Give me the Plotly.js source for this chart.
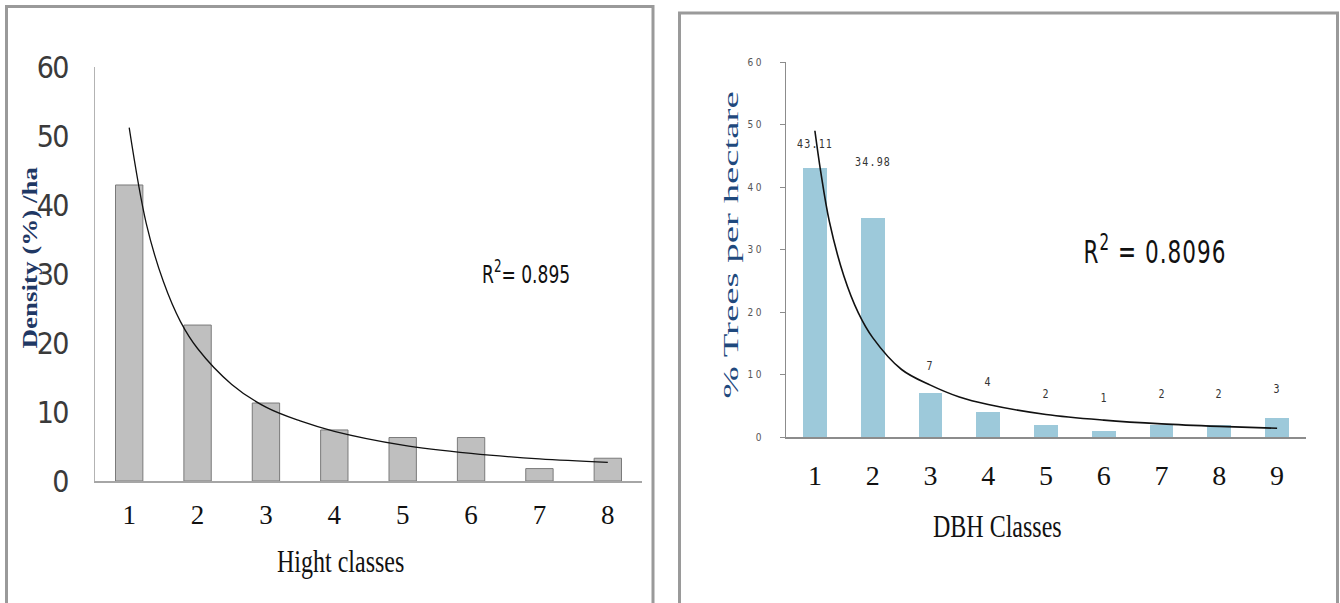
<!DOCTYPE html>
<html>
<head>
<meta charset="utf-8">
<script src="https://cdn.plot.ly/plotly-3.0.1.min.js"></script>
<style>
  html, body { margin: 0; padding: 0; background: #ffffff; }
  #chart { width: 1340px; height: 603px; }
  .annotation text { transform-box: fill-box; transform-origin: center; }
  .annotation[data-index="0"] text { transform: scaleX(1.35); }
  .annotation[data-index="1"] text { transform: scaleY(1.3); }
  .annotation[data-index="2"] text { transform: scaleY(1.33); }
  .annotation[data-index="3"] text { transform: scaleX(1.85); }
  .annotation[data-index="4"] text { transform: scaleY(1.3); }
  .annotation[data-index="5"] text { transform: scaleY(1.33); letter-spacing: 1px; }
  .y2tick text { letter-spacing: 2.5px; }
  .ytick text { letter-spacing: -1.5px; }
</style>
</head>
<body>
<div id="chart"></div>
<script>
// ---------- data ----------
const heightClasses = [1, 2, 3, 4, 5, 6, 7, 8];
const heightTickText = ['1', '2', '3', '4', '5', '6', '7', '8'];
const densityPct = [42.9, 22.6, 11.3, 7.4, 6.3, 6.3, 1.8, 3.3];
const heightTrendX = [1, 1.25, 1.5, 1.75, 2, 2.5, 3, 3.5, 4, 5, 6, 7, 8];
const heightTrendY = [51.2, 37.3, 28.9, 23.1, 19.2, 14.0, 10.7, 8.7, 7.2, 5.2, 4.0, 3.2, 2.7];
const heightR2 = '0.895';

const dbhClasses = [1, 2, 3, 4, 5, 6, 7, 8, 9];
const dbhTickText = ['1', '2', '3', '4', '5', '6', '7', '8', '9'];
const treesPct = [43.11, 34.98, 7, 4, 2, 1, 2, 2, 3];
const treesLabels = ['43.11', '34.98', '7', '4', '2', '1', '2', '2', '3'];
const dbhTrendX = [1, 1.1, 1.25, 1.5, 1.75, 2, 2.5, 3, 3.5, 4, 5, 6, 7, 8, 9];
const dbhTrendY = [49, 42.5, 34.5, 25.8, 19.9, 15.9, 10.8, 8.3, 6.4, 5.2, 3.6, 2.7, 2.1, 1.7, 1.4];
const dbhR2 = '0.8096';

// ---------- layout helpers ----------
const W = 1340, H = 603;
const px = x => x / W;
const py = y => 1 - y / H;
const labelLift = [24, 57, 28, 31, 31, 33, 31, 31, 30];

const serif = 'Liberation Serif, Times New Roman, serif';
const narrow = 'Liberation Sans Narrow, DejaVu Sans Condensed, Arial Narrow, sans-serif';

const traces = [
  {
    type: 'bar', x: heightClasses, y: densityPct, xaxis: 'x', yaxis: 'y',
    width: 0.4, marker: { color: '#bfbfbf', line: { color: '#7a7a7a', width: 1 } },
    hoverinfo: 'skip'
  },
  {
    type: 'scatter', mode: 'lines', x: heightTrendX, y: heightTrendY, xaxis: 'x', yaxis: 'y',
    line: { color: '#111111', width: 1.3, shape: 'spline', smoothing: 1 }, hoverinfo: 'skip'
  },
  {
    type: 'bar', x: dbhClasses, y: treesPct, xaxis: 'x2', yaxis: 'y2',
    width: 0.41, marker: { color: '#9dc9da', line: { width: 0 } },
    hoverinfo: 'skip'
  },
  {
    type: 'scatter', mode: 'lines', x: dbhTrendX, y: dbhTrendY, xaxis: 'x2', yaxis: 'y2',
    line: { color: '#111111', width: 1.6, shape: 'spline', smoothing: 1 }, hoverinfo: 'skip'
  }
];

const annotations = [
  { text: 'Density (%) /ha', xref: 'paper', yref: 'paper', x: px(30), y: py(258),
    textangle: -90, showarrow: false, xanchor: 'center', yanchor: 'middle',
    font: { family: serif, size: 20, color: '#1f3864', weight: 'bold' } },
  { text: 'Hight classes', xref: 'paper', yref: 'paper', x: px(340), y: py(562),
    showarrow: false, xanchor: 'center', yanchor: 'middle',
    font: { family: serif, size: 24, color: '#111111' } },
  { text: 'R<sup>2</sup>= ' + heightR2, xref: 'paper', yref: 'paper', x: px(526), y: py(272),
    showarrow: false, xanchor: 'center', yanchor: 'middle',
    font: { family: narrow, size: 19, color: '#111111' } },
  { text: '% Trees per hectare', xref: 'paper', yref: 'paper', x: px(731), y: py(245),
    textangle: -90, showarrow: false, xanchor: 'center', yanchor: 'middle',
    font: { family: serif, size: 21, color: '#1f497d' } },
  { text: 'DBH Classes', xref: 'paper', yref: 'paper', x: px(997), y: py(527),
    showarrow: false, xanchor: 'center', yanchor: 'middle',
    font: { family: serif, size: 24, color: '#111111' } },
  { text: 'R<sup>2</sup> = ' + dbhR2, xref: 'paper', yref: 'paper', x: px(1155), y: py(250),
    showarrow: false, xanchor: 'center', yanchor: 'middle',
    font: { family: narrow, size: 24, color: '#111111' } }
];

const barLabelStart = annotations.length;
treesLabels.forEach((t, i) => {
  annotations.push({
    text: t, xref: 'x2', yref: 'y2', x: dbhClasses[i], y: treesPct[i],
    showarrow: false, xanchor: 'center', yanchor: 'middle', yshift: labelLift[i],
    font: { family: 'DejaVu Sans Mono, monospace', size: 10, color: '#333333' }
  });
});

// CSS for bar labels (letter spacing + slight vertical stretch)
let css = '';
for (let i = barLabelStart; i < annotations.length; i++) {
  css += `.annotation[data-index="${i}"] text { letter-spacing: 1.2px; transform: scaleY(1.3); }\n`;
}
const st = document.createElement('style');
st.textContent = css;
document.head.appendChild(st);

const layout = {
  width: W, height: H,
  margin: { l: 0, r: 0, t: 0, b: 0, pad: 0 },
  paper_bgcolor: '#ffffff', plot_bgcolor: 'rgba(0,0,0,0)',
  showlegend: false,
  bargap: 0,
  xaxis: {
    domain: [px(95), px(642)], range: [0.5, 8.5], anchor: 'y',
    tickmode: 'array', tickvals: heightClasses, ticktext: heightTickText,
    showline: true, linecolor: '#a6a6a6', linewidth: 2,
    ticks: 'outside', ticklen: 9, tickcolor: 'rgba(0,0,0,0)',
    tickfont: { family: serif, size: 27, color: '#111111' },
    showgrid: false, zeroline: false, fixedrange: true
  },
  yaxis: {
    domain: [py(481), py(67)], range: [0, 60], anchor: 'x',
    tickmode: 'linear', tick0: 0, dtick: 10,
    showline: true, linecolor: '#b3b3b3', linewidth: 1,
    ticks: 'outside', ticklen: 20, tickcolor: 'rgba(0,0,0,0)',
    tickfont: { family: narrow, size: 30, color: '#3a3a3a' },
    showgrid: false, zeroline: false, fixedrange: true
  },
  xaxis2: {
    domain: [px(786), px(1306)], range: [0.5, 9.5], anchor: 'y2',
    tickmode: 'array', tickvals: dbhClasses, ticktext: dbhTickText,
    showline: true, linecolor: '#8c8c8c', linewidth: 1.5,
    ticks: 'outside', ticklen: 13, tickcolor: 'rgba(0,0,0,0)',
    tickfont: { family: serif, size: 28, color: '#111111' },
    showgrid: false, zeroline: false, fixedrange: true
  },
  yaxis2: {
    domain: [py(437), py(62)], range: [0, 60], anchor: 'x2',
    tickmode: 'linear', tick0: 0, dtick: 10,
    showline: true, linecolor: '#8c8c8c', linewidth: 1,
    ticks: 'outside', ticklen: 5, tickcolor: '#8c8c8c', tickwidth: 1,
    ticklabelstandoff: 14,
    tickfont: { family: 'DejaVu Sans Condensed, sans-serif', size: 10, color: '#555555' },
    showgrid: false, zeroline: false, fixedrange: true
  },
  shapes: [
    { type: 'rect', xref: 'paper', yref: 'paper', x0: px(6.5), x1: px(653), y0: py(640), y1: py(6.5),
      line: { color: '#9a9a9a', width: 3 }, fillcolor: 'rgba(0,0,0,0)', layer: 'below' },
    { type: 'rect', xref: 'paper', yref: 'paper', x0: px(679.5), x1: px(1337.5), y0: py(640), y1: py(13),
      line: { color: '#9a9a9a', width: 3 }, fillcolor: 'rgba(0,0,0,0)', layer: 'below' }
  ],
  annotations: annotations
};

Plotly.newPlot('chart', traces, layout, { displayModeBar: false, staticPlot: true });
</script>
</body>
</html>
